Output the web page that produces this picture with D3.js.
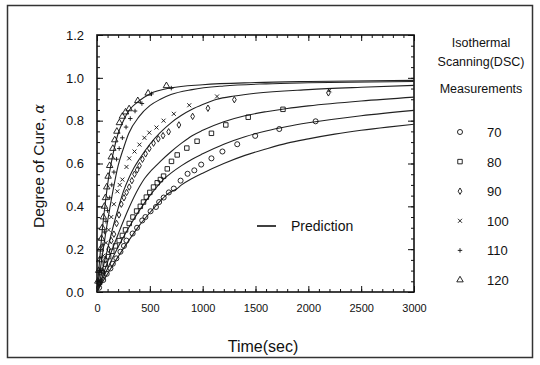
<!DOCTYPE html>
<html>
<head>
<meta charset="utf-8">
<script src="https://cdn.jsdelivr.net/npm/d3@7"></script>
<style>
  body { margin: 0; background: #fff; }
  svg { display: block; font-family: "Liberation Sans", Arial, sans-serif; }
</style>
</head>
<body>
<div id="chart"></div>
<script>
// measured degree of cure, [time (s), alpha]
let m70 = [[20,0.02],[59,0.056],[92,0.085],[127,0.11],[150,0.132],[183,0.157],[222,0.188],[255,0.215],[279,0.24],[337,0.273],[379,0.3],[428,0.334],[458,0.35],[507,0.377],[558,0.397],[588,0.42],[631,0.441],[680,0.465],[727,0.483],[791,0.52],[857,0.552],[921,0.568],[986,0.595],[1083,0.624],[1187,0.656],[1327,0.69],[1497,0.729],[1725,0.761],[2069,0.797]];
let m80 = [[25,0.045],[50,0.09],[78,0.13],[110,0.165],[140,0.19],[175,0.215],[210,0.24],[240,0.264],[270,0.29],[305,0.32],[340,0.35],[375,0.378],[410,0.4],[440,0.42],[467,0.443],[500,0.465],[535,0.49],[570,0.51],[600,0.525],[630,0.541],[665,0.575],[705,0.61],[759,0.64],[850,0.672],[947,0.704],[1083,0.741],[1219,0.78],[1431,0.816],[1760,0.853]];
let m90 = [[20,0.04],[50,0.1],[80,0.15],[110,0.2],[135,0.24],[160,0.27],[185,0.32],[208,0.36],[230,0.41],[255,0.44],[280,0.465],[305,0.49],[330,0.52],[355,0.55],[380,0.57],[402,0.59],[430,0.62],[460,0.645],[495,0.67],[535,0.695],[580,0.715],[625,0.73],[678,0.748],[775,0.78],[905,0.82],[1050,0.858],[1300,0.898],[2190,0.93]];
let m100 = [[15,0.05],[35,0.1],[60,0.17],[85,0.23],[110,0.29],[135,0.35],[160,0.41],[192,0.47],[215,0.5],[240,0.525],[279,0.584],[305,0.624],[355,0.656],[402,0.688],[449,0.72],[495,0.744],[563,0.768],[630,0.8],[727,0.832],[873,0.872],[1136,0.913],[2200,0.942]];
let m110 = [[10,0.05],[25,0.1],[40,0.16],[55,0.22],[70,0.28],[85,0.33],[100,0.38],[120,0.44],[140,0.5],[160,0.56],[185,0.62],[210,0.67],[240,0.72],[275,0.77],[315,0.81],[360,0.845],[425,0.88],[516,0.925],[703,0.952]];
let m120 = [[8,0.05],[16,0.1],[25,0.15],[33,0.2],[42,0.25],[50,0.3],[60,0.35],[70,0.4],[80,0.44],[92,0.49],[105,0.54],[120,0.59],[135,0.63],[150,0.67],[168,0.71],[188,0.75],[212,0.79],[240,0.82],[270,0.84],[304,0.855],[386,0.893],[484,0.928],[657,0.963]];

// prediction curves
let p70 = [[0,0],[50,0.045],[100,0.085],[200,0.165],[300,0.24],[400,0.31],[500,0.37],[600,0.425],[650,0.45],[700,0.468],[750,0.48],[800,0.5],[900,0.53],[1000,0.555],[1200,0.6],[1400,0.638],[1600,0.668],[1800,0.695],[2000,0.715],[2250,0.737],[2500,0.755],[2750,0.77],[3000,0.783]];
let p80 = [[0,0],[50,0.055],[100,0.11],[200,0.21],[300,0.3],[400,0.38],[500,0.45],[600,0.51],[650,0.535],[700,0.555],[800,0.59],[900,0.62],[1000,0.645],[1200,0.69],[1400,0.725],[1600,0.752],[1800,0.773],[2000,0.79],[2500,0.823],[3000,0.848]];
let p90 = [[0,0],[50,0.07],[100,0.14],[200,0.27],[300,0.39],[400,0.49],[450,0.53],[500,0.56],[550,0.585],[600,0.61],[700,0.655],[800,0.695],[900,0.73],[1000,0.755],[1200,0.795],[1400,0.823],[1600,0.842],[1800,0.857],[2000,0.869],[2500,0.892],[3000,0.91]];
let p100 = [[0,0],[50,0.1],[100,0.2],[150,0.3],[200,0.39],[250,0.47],[300,0.53],[350,0.58],[400,0.62],[500,0.69],[600,0.745],[700,0.79],[800,0.825],[900,0.853],[1000,0.875],[1136,0.9],[1300,0.915],[1500,0.928],[2000,0.945],[2500,0.956],[3000,0.965]];
let p110 = [[0,0],[50,0.17],[100,0.33],[150,0.47],[200,0.59],[250,0.67],[300,0.74],[400,0.82],[500,0.87],[600,0.9],[700,0.922],[900,0.945],[1200,0.962],[1600,0.972],[2000,0.977],[3000,0.983]];
let p120 = [[0,0],[25,0.15],[50,0.29],[75,0.4],[100,0.5],[150,0.64],[200,0.74],[250,0.8],[300,0.845],[400,0.893],[500,0.925],[700,0.953],[1000,0.968],[1500,0.978],[2000,0.983],[3000,0.988]];

let temps = ["70", "80", "90", "100", "110", "120"];
let measured = [m70, m80, m90, m100, m110, m120];
let predicted = [p70, p80, p90, p100, p110, p120];
let xTicks = [0, 500, 1000, 1500, 2000, 2500, 3000];
let yTicks = [0, 0.2, 0.4, 0.6, 0.8, 1.0, 1.2];

let w = 540, h = 365;
let padL = 97, padR = 414, padT = 35, padB = 292;

let viz = d3.select("#chart").append("svg")
    .attr("width", w)
    .attr("height", h);

// outer frame round the whole figure
viz.append("rect")
    .attr("x", 7.5).attr("y", 5.5)
    .attr("width", 525).attr("height", 352)
    .attr("fill", "none")
    .attr("stroke", "#333")
    .attr("stroke-width", 1.5);

let xScale = d3.scaleLinear().domain([0, 3000]).range([padL, padR]);
let yScale = d3.scaleLinear().domain([0, 1.2]).range([padB, padT]);

// minor ticks first, then major ones with labels (all pointing inward)
function addAxis(axis, tx, ty, cls){
  let g = viz.append("g")
      .attr("class", cls)
      .attr("transform", "translate(" + tx + "," + ty + ")")
      .call(axis);
  g.select(".domain").remove();
  g.selectAll("line").attr("stroke", "#111").attr("stroke-width", 1);
  return g;
}

let minorX = d3.range(0, 3001, 100);
let minorY = d3.range(0, 1.2001, 0.05);

addAxis(d3.axisBottom(xScale).tickValues(minorX).tickSize(-3).tickFormat(""), 0, padB, "xminor");
addAxis(d3.axisTop(xScale).tickValues(minorX).tickSize(-3).tickFormat(""), 0, padT, "xminortop");
addAxis(d3.axisLeft(yScale).tickValues(minorY).tickSize(-3).tickFormat(""), padL, 0, "yminor");
addAxis(d3.axisRight(yScale).tickValues(minorY).tickSize(-3).tickFormat(""), padR, 0, "yminorright");

let xAxisGroup = addAxis(d3.axisBottom(xScale).tickValues(xTicks).tickSize(-6).tickPadding(12)
    .tickFormat(d3.format("d")), 0, padB, "xaxisgroup");
xAxisGroup.selectAll("text")
    .attr("font-size", 11)
    .attr("fill", "#111")
    .attr("font-family", "Liberation Sans, Arial, sans-serif");

addAxis(d3.axisTop(xScale).tickValues(xTicks).tickSize(-6).tickFormat(""), 0, padT, "xtop");

let yAxisGroup = addAxis(d3.axisLeft(yScale).tickValues(yTicks).tickSize(-6).tickPadding(13)
    .tickFormat(d3.format(".1f")), padL, 0, "yaxisgroup");
yAxisGroup.selectAll("text")
    .attr("font-size", 13)
    .attr("fill", "#111")
    .attr("font-family", "Liberation Sans, Arial, sans-serif");

addAxis(d3.axisRight(yScale).tickValues(yTicks).tickSize(-6).tickFormat(""), padR, 0, "yright");

// plot frame
viz.append("rect")
    .attr("x", padL).attr("y", padT)
    .attr("width", padR - padL).attr("height", padB - padT)
    .attr("fill", "none")
    .attr("stroke", "#111")
    .attr("stroke-width", 1.6);

// prediction lines
let lineMaker = d3.line()
    .x(function(d){ return xScale(d[0]); })
    .y(function(d){ return yScale(d[1]); })
    .curve(d3.curveMonotoneX);

viz.selectAll(".line").data(predicted).enter()
  .append("path")
    .attr("class", "line")
    .attr("d", lineMaker)
    .attr("fill", "none")
    .attr("stroke", "#222")
    .attr("stroke-width", 1.1);

// marker shapes for each temperature
let crossX = {
  draw: function(context, size){
    let r = Math.sqrt(size) / 2;
    context.moveTo(-r, -r); context.lineTo(r, r);
    context.moveTo(r, -r); context.lineTo(-r, r);
  }
};
let plusSym = {
  draw: function(context, size){
    let r = Math.sqrt(size) / 2;
    context.moveTo(-r, 0); context.lineTo(r, 0);
    context.moveTo(0, -r); context.lineTo(0, r);
  }
};
let shapes = [d3.symbolCircle, d3.symbolSquare, d3.symbolDiamond, crossX, plusSym, d3.symbolTriangle];
let sizes = [20, 20, 12, 16, 20, 18];

measured.forEach(function(series, i){
  let sym = d3.symbol().type(shapes[i]).size(sizes[i]);
  viz.append("g").attr("class", "series" + temps[i])
    .selectAll("path").data(series).enter()
    .append("path")
      .attr("transform", function(d){ return "translate(" + xScale(d[0]) + "," + yScale(d[1]) + ")"; })
      .attr("d", sym)
      .attr("fill", "none")
      .attr("stroke", "#111")
      .attr("stroke-width", 0.9);
});

// axis titles
viz.append("text")
    .attr("x", 263).attr("y", 352)
    .attr("text-anchor", "middle")
    .attr("font-size", 16)
    .attr("fill", "#111")
    .text("Time(sec)");

let yTitle = viz.append("text")
    .attr("transform", "translate(44,166) rotate(-90)")
    .attr("text-anchor", "middle")
    .attr("font-size", 15.5)
    .attr("fill", "#111");
yTitle.append("tspan").text("Degree of Cure, ");
yTitle.append("tspan")
    .attr("font-family", "DejaVu Serif, serif")
    .attr("font-style", "italic")
    .attr("font-size", 14)
    .text("α");

// prediction legend inside the plot
viz.append("line")
    .attr("x1", 257).attr("x2", 276)
    .attr("y1", 226).attr("y2", 226)
    .attr("stroke", "#111")
    .attr("stroke-width", 1.6);
viz.append("text")
    .attr("x", 291).attr("y", 231)
    .attr("font-size", 14)
    .attr("fill", "#111")
    .text("Prediction");

// measurement legend on the right
let legendTitle = ["Isothermal", "Scanning(DSC)", "Measurements"];
let titleY = [47, 66, 93];
legendTitle.forEach(function(t, i){
  viz.append("text")
      .attr("x", 481).attr("y", titleY[i])
      .attr("text-anchor", "middle")
      .attr("font-size", 12.5)
      .attr("fill", "#111")
      .text(t);
});

let legendY = d3.scalePoint().domain(temps).range([132, 280]);
temps.forEach(function(t, i){
  let sym = d3.symbol().type(shapes[i]).size(sizes[i]);
  viz.append("path")
      .attr("transform", "translate(460," + legendY(t) + ")")
      .attr("d", sym)
      .attr("fill", "none")
      .attr("stroke", "#111")
      .attr("stroke-width", 0.9);
  viz.append("text")
      .attr("x", 487).attr("y", legendY(t) + 5)
      .attr("font-size", 13)
      .attr("fill", "#111")
      .text(t);
});
</script>
</body>
</html>
